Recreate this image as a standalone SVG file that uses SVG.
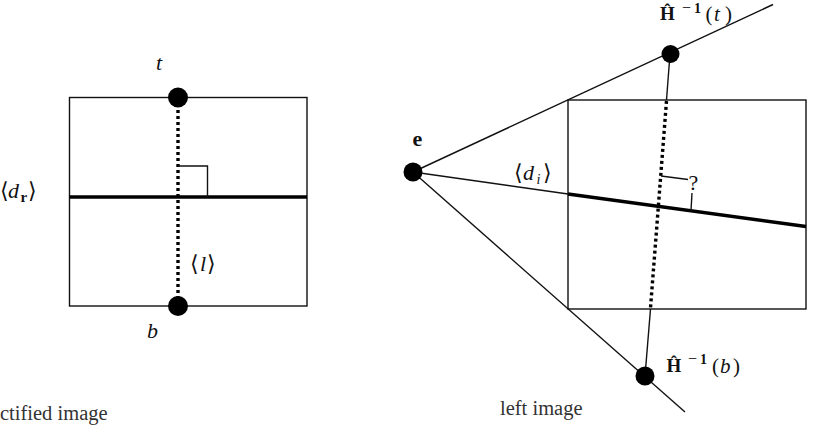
<svg xmlns="http://www.w3.org/2000/svg" width="813" height="434" viewBox="0 0 813 434">
<style>
.thin{fill:none;stroke:#111;stroke-width:1.4}
.thick{fill:none;stroke:#000;stroke-width:3.4}
.dots{fill:none;stroke:#000;stroke-width:3.4;stroke-dasharray:3 3}
.dot{fill:#000}
.cap{font-family:"Liberation Serif",serif;font-size:20.5px;fill:#333}
.m{font-family:"Liberation Serif",serif;font-size:22px;fill:#111}
.mi{font-style:italic}
.br{font-family:"DejaVu Serif","Liberation Serif",serif;font-weight:200}
.bf{font-weight:bold}
</style>
<rect width="813" height="434" fill="#fff"/>

<g id="rectified-image">
<rect class="thin" x="69.5" y="97.5" width="237.5" height="208.5"/>
<text class="cap" x="0" y="420">ctified image</text>
</g>

<g id="left-image">
<rect class="thin" x="568" y="100" width="238" height="209"/>
<text class="cap" x="500" y="415">left image</text>
</g>

<g id="connectors">
<line class="thick" x1="69.5" y1="197" x2="307" y2="197"/>
<line class="dots" x1="178" y1="104" x2="178" y2="300"/>
<polyline class="thin" points="178,166 207.5,166 207.5,197"/>
<line class="thin" x1="413" y1="172" x2="773" y2="4.5"/>
<line class="thin" x1="413" y1="172" x2="685" y2="412"/>
<line class="thin" x1="413" y1="172" x2="568" y2="194"/>
<line class="thick" x1="568" y1="194" x2="806" y2="226.5"/>
<line class="thin" x1="670" y1="54" x2="666.5" y2="100"/>
<line class="dots" x1="666.5" y1="101" x2="650.5" y2="308"/>
<line class="thin" x1="650.5" y1="309" x2="645" y2="376"/>
<line class="thin" x1="661" y1="176" x2="688" y2="179.5"/>
<line class="thin" x1="692" y1="193" x2="691" y2="210.5"/>
</g>

<g id="t">
<circle class="dot" cx="178" cy="97.5" r="10"/>
<text class="m mi" x="156" y="70">t</text>
</g>
<g id="b">
<circle class="dot" cx="178" cy="306" r="10"/>
<text class="m mi" x="147" y="338">b</text>
</g>
<g id="dr-label">
<text class="m" y="198"><tspan class="br" x="0">⟨</tspan><tspan class="mi" x="8">d</tspan><tspan class="bf" x="20.5" y="202" font-size="15">r</tspan><tspan class="br" x="28" y="198">⟩</tspan></text>
</g>
<g id="l-label">
<text class="m" y="271" font-size="21"><tspan class="br" x="190">⟨</tspan><tspan class="mi" x="200">l</tspan><tspan class="br" x="207">⟩</tspan></text>
</g>

<g id="e">
<circle class="dot" cx="413" cy="172" r="9.5"/>
<text class="m bf" x="417.5" y="146" text-anchor="middle" font-size="21">e</text>
</g>
<g id="di-label">
<text class="m" y="180" font-size="20"><tspan class="br" x="514">⟨</tspan><tspan class="mi" x="523">d</tspan><tspan class="mi" x="536.5" y="184" font-size="14">i</tspan><tspan class="br" x="543" y="180">⟩</tspan></text>
</g>
<g id="question">
<text class="m" x="688.5" y="190" font-size="19">?</text>
</g>
<g id="Ht">
<circle class="dot" cx="670.5" cy="54" r="9"/>
<text class="m" y="20"><tspan class="bf" x="660" font-size="19">Ĥ</tspan><tspan x="682" y="13" font-size="16">−</tspan><tspan x="694" y="13" font-size="14" class="bf">1</tspan><tspan x="705.5" y="21" font-size="21">(</tspan><tspan class="mi" x="714" font-size="21">t</tspan><tspan x="725" font-size="21">)</tspan></text>
</g>
<g id="Hb">
<circle class="dot" cx="645" cy="376" r="9.5"/>
<text class="m" y="372"><tspan class="bf" x="666.5" font-size="19">Ĥ</tspan><tspan x="688" y="364" font-size="16">−</tspan><tspan x="700" y="364" font-size="14" class="bf">1</tspan><tspan x="712" y="373" font-size="21">(</tspan><tspan class="mi" x="720" font-size="21">b</tspan><tspan x="733" font-size="21">)</tspan></text>
</g>
</svg>
